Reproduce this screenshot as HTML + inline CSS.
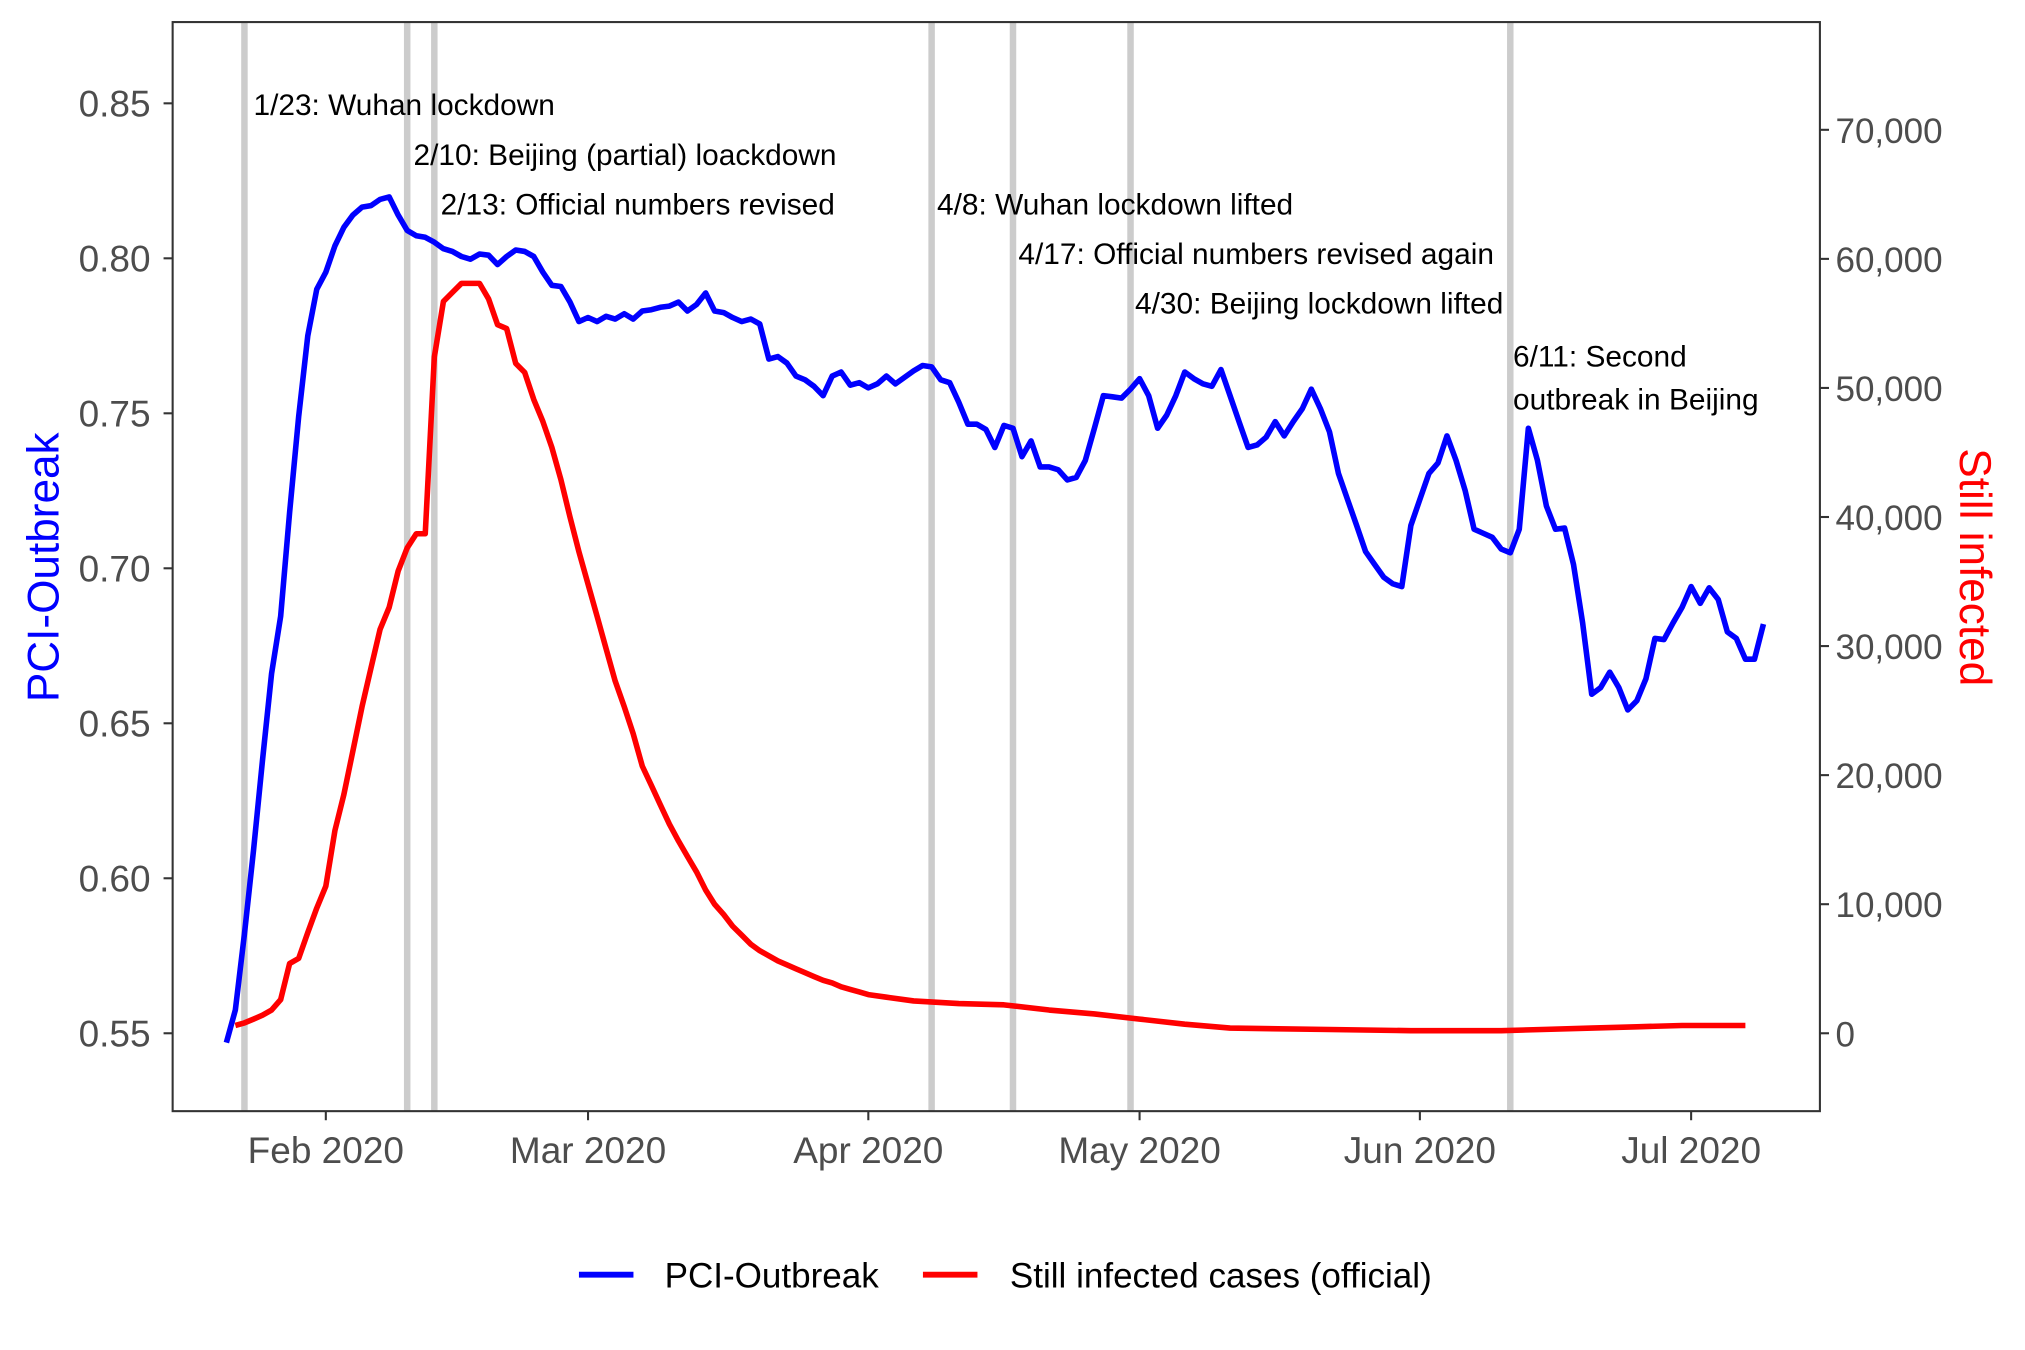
<!DOCTYPE html>
<html><head><meta charset="utf-8"><style>
html,body{margin:0;padding:0;background:#fff}
svg{display:block}
text{font-family:"Liberation Sans",Arial,sans-serif}
</style></head><body>
<svg id="chart" width="2025" height="1350" viewBox="0 0 1560 1040" xmlns="http://www.w3.org/2000/svg">
<rect x="0" y="0" width="1560" height="1040" fill="#fff"/>
<g id="events"></g>
<g id="series"></g>
<g id="annots"></g>
<rect x="133" y="17" width="1269" height="839" fill="none" stroke="#333" stroke-width="1.6"/>
<g id="axes"></g>
<text x="0" y="0" transform="translate(45,437) rotate(-90)" text-anchor="middle" font-size="34" fill="#0000ff">PCI-Outbreak</text>
<text x="0" y="0" transform="translate(1510,437) rotate(90)" text-anchor="middle" font-size="34" fill="#ff0000">Still infected</text>
<g>
<line x1="446" y1="982" x2="488" y2="982" stroke="#0000ff" stroke-width="4.5"/>
<text x="512" y="992" font-size="27" fill="#000">PCI-Outbreak</text>
<line x1="711" y1="982" x2="753" y2="982" stroke="#ff0000" stroke-width="4.5"/>
<text x="778" y="992" font-size="27" fill="#000">Still infected cases (official)</text>
</g>
</svg>
<script>
// days are offsets from 2020-02-01
const blueStart = -11;
const blueVals = [0.547,0.5575,0.582,0.609,0.638,0.666,0.6845,0.718,0.749,0.775,0.790,0.7955,
0.804,0.810,0.814,0.8165,0.817,0.819,0.8198,0.814,
0.809,0.8073,0.8068,0.8052,0.8031,0.8022,0.8006,0.7997,0.8014,0.801,0.798,0.8006,0.8027,0.8022,0.8006,0.7955,0.7913,0.7909,0.7859,0.7796,
0.7809,0.7796,0.7813,0.7804,0.7821,0.7804,0.783,0.7834,0.7842,0.7846,0.7859,0.783,0.7851,0.7888,0.783,0.7825,0.7809,0.7796,0.7804,0.7788,0.7675,0.7683,0.7662,0.762,0.7608,0.7587,0.7557,0.762,0.7633,0.7591,0.7599,0.7582,0.7595,
0.762,0.7595,0.7616,0.7637,0.7654,0.765,0.7608,0.7599,0.7536,0.7465,0.7465,0.7448,0.739,0.7461,0.7452,0.736,0.7411,0.7327,0.7327,0.7318,0.7285,0.7293,0.7348,0.7452,0.7557,0.7553,0.7549,0.7578,0.7612,
0.7557,0.7452,0.7494,0.7557,0.7633,0.7612,0.7595,0.7587,0.7641,0.7557,0.7473,0.739,0.7398,0.7423,0.7473,0.7427,0.7473,0.7515,0.7578,
0.7515,0.744,0.7306,0.7222,0.7138,0.7054,0.7012,0.6971,0.695,0.6941,
0.7138,0.7222,0.7306,0.734,0.7427,0.7348,0.7251,0.7126,0.7113,0.71,0.7062,0.705,
0.7126,0.7452,0.7348,0.7201,0.7126,0.713,0.7012,0.6824,0.6594,
0.6615,0.6665,0.6615,0.6543,0.6573,0.6644,0.6774,0.677,0.6824,0.6874,0.6941,
0.6887,0.6937,0.6899,0.6795,0.6774,0.6707,0.6707,0.682];
const redDays = [-10,-9,-8,-7,-6,-5,-4,-3,-2,-1,0,1,2,3,4,5,6,7,8,9,10,11,12,13,14,15,16,17,18,19,20,21,22,23,24,25,26,27,28,29,30,31,32,33,34,35,36,37,38,39,40,41,42,43,44,45,46,47,48,49,50,51,52,53,54,55,56,57,58,59,60,62,65,70,75,80,85,90,95,100,110,120,130,135,140,145,150,157];
const redVals = [600,800,1100,1400,1800,2600,5400,5800,7800,9700,11400,15700,18500,21900,25300,28300,31300,33000,35800,37600,38700,38700,52400,56700,57400,58100,58100,58100,56900,54900,54600,51900,51200,49100,47400,45400,42900,40000,37300,34800,32300,29800,27300,25300,23200,20700,19200,17700,16200,14900,13700,12500,11100,10000,9200,8300,7600,6900,6400,6000,5600,5300,5000,4700,4400,4100,3900,3600,3400,3200,3000,2800,2500,2300,2200,1800,1500,1100,700,400,300,200,200,300,400,500,600,600];
const leftTicks = [0.55,0.60,0.65,0.70,0.75,0.80,0.85];
const leftTickLabels = ["0.55","0.60","0.65","0.70","0.75","0.80","0.85"];
const rightTicks = [0,10000,20000,30000,40000,50000,60000,70000];
const rightTickLabels = ["0","10,000","20,000","30,000","40,000","50,000","60,000","70,000"];
const xTicks = [0,29,60,90,121,151];
const xTickLabels = ["Feb 2020","Mar 2020","Apr 2020","May 2020","Jun 2020","Jul 2020"];
const eventDays = [-9,9,12,67,76,89,131];
const annotTexts = ["1/23: Wuhan lockdown","2/10: Beijing (partial) loackdown","2/13: Official numbers revised","4/8: Wuhan lockdown lifted","4/17: Official numbers revised again","4/30: Beijing lockdown lifted","6/11: Second","outbreak in Beijing"];
const annotDays = [-8,9.7,12.7,67.6,76.6,89.5,131.3,131.3];
const annotLevels = [0.847,0.831,0.815,0.815,0.799,0.783,0.766,0.752];

const NS="http://www.w3.org/2000/svg";
function X(d){return 251 + d*(453-251)/29;}
function YL(v){return 796 - (v-0.55)*(796-199)/0.25;}
function YR(v){return 796 - v*(796-100)/70000;}
function mk(tag,attrs,parent){const e=document.createElementNS(NS,tag);for(const k in attrs)e.setAttribute(k,attrs[k]);parent.appendChild(e);return e;}

const gEv=document.getElementById('events');
eventDays.forEach(d=>{
  const l=mk('line',{x1:X(d),x2:X(d),y1:17,y2:856,stroke:'#cccccc','stroke-width':5},gEv);
  
  
});
const gS=document.getElementById('series');
let rp=redDays.map((d,i)=>X(d).toFixed(1)+','+YR(redVals[i]).toFixed(1)).join(' ');
const red=mk('polyline',{points:rp,fill:'none',stroke:'#ff0000','stroke-width':4.3,'stroke-linejoin':'round'},gS);


let bp=blueVals.map((v,i)=>X(blueStart+i).toFixed(1)+','+YL(v).toFixed(1)).join(' ');
const blue=mk('polyline',{points:bp,fill:'none',stroke:'#0000ff','stroke-width':4.3,'stroke-linejoin':'round'},gS);



const gA=document.getElementById('annots');
annotTexts.forEach((t,i)=>{
  const e=mk('text',{x:X(annotDays[i]),y:YL(annotLevels[i])+2,'font-size':23,fill:'#000'},gA);
  e.textContent=t;
  
  
});
const gX=document.getElementById('axes');
leftTicks.forEach((v,i)=>{
  const y=YL(v);
  const t=mk('line',{x1:126,x2:133,y1:y,y2:y,stroke:'#333','stroke-width':1.6},gX);
  
  
  const l=mk('text',{x:116,y:y+10,'text-anchor':'end','font-size':28.5,fill:'#4d4d4d'},gX);
  l.textContent=leftTickLabels[i];
  
  
});
rightTicks.forEach((v,i)=>{
  const y=YR(v);
  const t=mk('line',{x1:1402,x2:1409,y1:y,y2:y,stroke:'#333','stroke-width':1.6},gX);
  
  
  const l=mk('text',{x:1414,y:y+10,'font-size':27,fill:'#4d4d4d'},gX);
  l.textContent=rightTickLabels[i];
  
  
});
xTicks.forEach((d,i)=>{
  const x=X(d);
  const t=mk('line',{x1:x,x2:x,y1:856,y2:863,stroke:'#333','stroke-width':1.6},gX);
  
  
  const l=mk('text',{x:x,y:896,'text-anchor':'middle','font-size':28.5,fill:'#4d4d4d'},gX);
  l.textContent=xTickLabels[i];
  
  
});
</script>
</body></html>
